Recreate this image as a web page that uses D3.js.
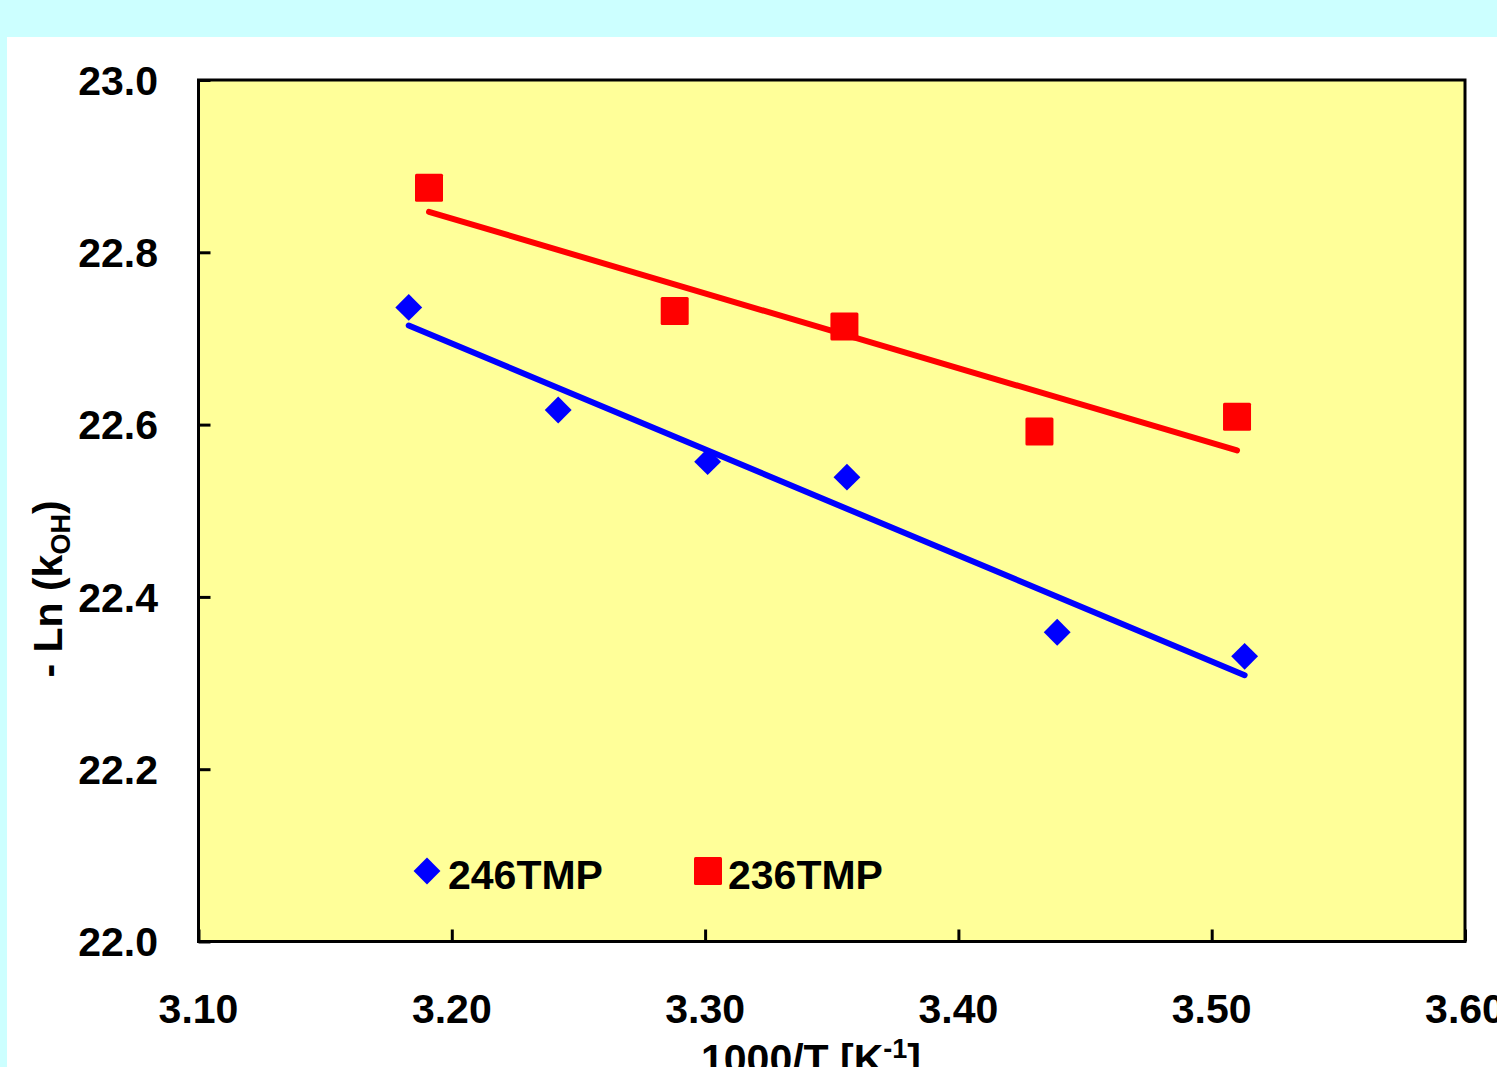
<!DOCTYPE html>
<html>
<head>
<meta charset="utf-8">
<script src="https://cdn.jsdelivr.net/npm/d3@7"></script>
<style>
  html, body { margin: 0; padding: 0; background: #CCFFFF; overflow: hidden; }
  svg { display: block; }
  text { font-family: "Liberation Sans", Arial, sans-serif; font-weight: bold; }
</style>
</head>
<body>
<script>
// Data
const series246Name = "246TMP";
const series246X = [3.183, 3.242, 3.301, 3.356, 3.439, 3.513];
const series246Y = [22.736, 22.617, 22.557, 22.539, 22.359, 22.331];

const series236Name = "236TMP";
const series236X = [3.191, 3.288, 3.355, 3.432, 3.510];
const series236Y = [22.875, 22.732, 22.714, 22.592, 22.609];

const xTicks = [3.10, 3.20, 3.30, 3.40, 3.50, 3.60];
const yTicks = [22.0, 22.2, 22.4, 22.6, 22.8, 23.0];

(function () {
const W = 1497, H = 1067;
const FS = 41;
const svg = d3.select("body").append("svg").attr("width", W).attr("height", H);

// background panels
svg.append("rect").attr("x", 0).attr("y", 0).attr("width", W).attr("height", H).attr("fill", "#CCFFFF");
svg.append("rect").attr("x", 7).attr("y", 37).attr("width", W - 7).attr("height", H - 37).attr("fill", "#FFFFFF");

const pL = 198.5, pR = 1465, pT = 80, pB = 941.5;
const x = d3.scaleLinear().domain([3.10, 3.60]).range([pL, pR]);
const y = d3.scaleLinear().domain([22.0, 23.0]).range([pB, pT]);

// plot area
svg.append("rect").attr("x", pL).attr("y", pT).attr("width", pR - pL).attr("height", pB - pT)
  .attr("fill", "#FFFF99").attr("stroke", "none");

// inward ticks via axes
const xAxis = d3.axisBottom(x).tickValues(xTicks).tickSize(-12).tickFormat("");
const gx = svg.append("g").attr("transform", `translate(0,${pB})`).call(xAxis);
gx.select(".domain").remove();
gx.selectAll(".tick line").attr("stroke", "#000").attr("stroke-width", 3);

const yAxis = d3.axisLeft(y).tickValues(yTicks).tickSize(-12).tickFormat("");
const gy = svg.append("g").attr("transform", `translate(${pL},0)`).call(yAxis);
gy.select(".domain").remove();
gy.selectAll(".tick line").attr("stroke", "#000").attr("stroke-width", 3);

// tick labels
svg.append("g").selectAll("text").data(xTicks).join("text")
  .attr("x", d => x(d)).attr("y", 1023).attr("text-anchor", "middle")
  .attr("font-size", FS).attr("fill", "#000").text(d => d.toFixed(2));
svg.append("g").selectAll("text").data(yTicks).join("text")
  .attr("x", 158).attr("y", d => y(d)).attr("dy", "0.36em").attr("text-anchor", "end")
  .attr("font-size", FS).attr("fill", "#000").text(d => d.toFixed(1));

// axis titles
const xt = svg.append("text").attr("x", 811).attr("y", 1073).attr("text-anchor", "middle")
  .attr("font-size", FS).attr("fill", "#000");
xt.append("tspan").text("1000/T [K");
xt.append("tspan").attr("font-size", 27).attr("dy", -15).text("-1");
xt.append("tspan").attr("dy", 15).text("]");

const yt = svg.append("text").attr("transform", "translate(62,589) rotate(-90)").attr("text-anchor", "middle")
  .attr("font-size", FS).attr("fill", "#000");
yt.append("tspan").text("- Ln (k");
yt.append("tspan").attr("font-size", 27).attr("dy", 8).text("OH");
yt.append("tspan").attr("dy", -8).text(")");

// linear regression
function fit(xs, ys) {
  const n = xs.length;
  const mx = d3.mean(xs), my = d3.mean(ys);
  let sxy = 0, sxx = 0;
  for (let i = 0; i < n; i++) { sxy += (xs[i] - mx) * (ys[i] - my); sxx += (xs[i] - mx) ** 2; }
  const b = sxy / sxx, a = my - b * mx;
  const x0 = d3.min(xs), x1 = d3.max(xs);
  return [[x0, a + b * x0], [x1, a + b * x1]];
}
const line = d3.line().x(d => x(d[0])).y(d => y(d[1]));

svg.append("path").attr("d", line(fit(series236X, series236Y)))
  .attr("stroke", "#FF0000").attr("stroke-width", 6).attr("stroke-linecap", "round").attr("fill", "none");
svg.append("path").attr("d", line(fit(series246X, series246Y)))
  .attr("stroke", "#0000FF").attr("stroke-width", 6).attr("stroke-linecap", "round").attr("fill", "none");

// markers
const sq = 28, dia = 19;
svg.append("g").selectAll("rect").data(series236X.map((v, i) => [v, series236Y[i]])).join("rect")
  .attr("x", d => x(d[0]) - sq / 2).attr("y", d => y(d[1]) - sq / 2)
  .attr("width", sq).attr("height", sq).attr("rx", 1.5).attr("fill", "#FF0000");
svg.append("g").selectAll("rect").data(series246X.map((v, i) => [v, series246Y[i]])).join("rect")
  .attr("x", -dia / 2).attr("y", -dia / 2).attr("width", dia).attr("height", dia)
  .attr("transform", d => `translate(${x(d[0])},${y(d[1])}) rotate(45)`).attr("fill", "#0000FF");

// border on top
svg.append("rect").attr("x", pL).attr("y", pT).attr("width", pR - pL).attr("height", pB - pT)
  .attr("fill", "none").attr("stroke", "#000").attr("stroke-width", 3);

// legend
svg.append("rect").attr("x", -dia / 2).attr("y", -dia / 2).attr("width", dia).attr("height", dia)
  .attr("transform", "translate(427,871) rotate(45)").attr("fill", "#0000FF");
svg.append("text").attr("x", 448).attr("y", 889).attr("font-size", FS).attr("fill", "#000").text(series246Name);
svg.append("rect").attr("x", 694).attr("y", 857).attr("width", sq).attr("height", sq).attr("rx", 1.5).attr("fill", "#FF0000");
svg.append("text").attr("x", 728).attr("y", 889).attr("font-size", FS).attr("fill", "#000").text(series236Name);
})();
</script>
</body>
</html>
